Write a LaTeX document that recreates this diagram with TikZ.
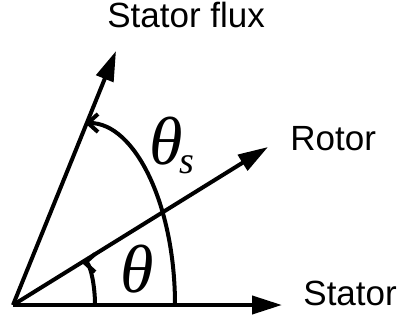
\documentclass[tikz,border=0pt]{standalone}
\usepackage{fontspec}
\setmainfont{Liberation Sans}
\newfontfamily\letragrega{Liberation Serif}
\usetikzlibrary{arrows.meta}
\tikzset{
  vetor/.style={-{Triangle[length=15pt, width=9pt]}, line width=2pt},
  arco/.style={-{Straight Barb[length=5pt, width=9pt]}, line width=2pt},
  rotulo/.style={font=\fontsize{17.5}{21}\selectfont, inner sep=0pt},
  angulo/.style={font=\fontsize{34}{40}\selectfont\letragrega\itshape, inner sep=0pt},
  indice/.style={font=\fontsize{19}{22}\selectfont\letragrega\itshape, inner sep=0pt},
}
\begin{document}
\begin{tikzpicture}[x=0.5pt, y=0.5pt]
\useasboundingbox (0,0) rectangle (400,322);

% eixos
\coordinate (origem) at (13,17);
\coordinate (pontaEstator) at (282,17);
\coordinate (pontaRotor) at (268,175);
\coordinate (pontaFluxo) at (116,271);

\node[rotulo, anchor=base west] (estator) at (303,17) {Stator};
\node[rotulo, anchor=base west] (rotor) at (290,172) {Rotor};
\node[rotulo, anchor=base west] (fluxo) at (107,294) {Stator flux};

\draw[vetor] (origem) -- (pontaEstator);
\draw[vetor] (origem) -- (pontaRotor);
\draw[vetor] (origem) -- (pontaFluxo);

% angulos
\coordinate (inicioTheta) at (95,17);
\coordinate (inicioThetaS) at (175,17);
\draw[arco] (inicioTheta) arc[start angle=0, end angle=90, x radius=13, y radius=42];
\draw[arco] (inicioThetaS) arc[start angle=0, end angle=90, x radius=90, y radius=182];

\node[angulo] (theta) at (137,53) {θ};
\node[angulo] (thetaS) at (166,181) {θ};
\node[indice] (sub) at (187,157) {s};

\end{tikzpicture}
\end{document}
